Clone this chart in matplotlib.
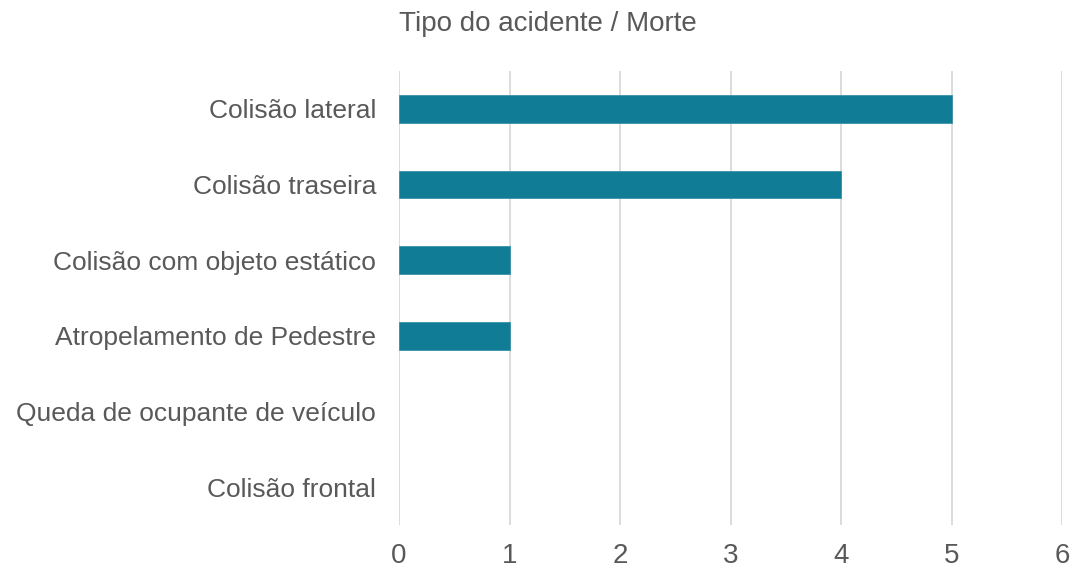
import matplotlib
matplotlib.use("Agg")
import matplotlib.pyplot as plt

categories = ["Colisão lateral", "Colisão traseira", "Colisão com objeto estático",
              "Atropelamento de Pedestre", "Queda de ocupante de veículo", "Colisão frontal"]
values = [5, 4, 1, 1, 0, 0]
xticks = [0, 1, 2, 3, 4, 5, 6]
title = "Tipo do acidente / Morte"

plt.rcParams['font.family'] = ['Liberation Sans', 'DejaVu Sans']
txt = "#595959"

fig = plt.figure(figsize=(10.73, 5.70), dpi=100)
ax = fig.add_axes([399/1073, 1 - 525/570, (1062 - 399)/1073, (525 - 71)/570])

y = list(range(len(categories)))
lws = [0.6 if v > 0 else 0 for v in values]
ax.barh(y, values, height=0.37, color="#107C96", edgecolor="#3A93A8", linewidth=lws, zorder=3)
ax.set_ylim(len(categories) - 0.5, -0.5)
ax.set_xlim(0, 6)
ax.set_xticks(xticks)
ax.set_xticklabels([str(v) for v in xticks], fontsize=20, color=txt)
ax.set_yticks(y)
ax.set_yticklabels(categories, fontsize=19, color=txt)
ax.tick_params(axis='both', length=0)
ax.tick_params(axis='x', pad=13)
ax.tick_params(axis='y', pad=16.5)
ax.grid(axis='x', color="#D9D9D9", linewidth=1.3, zorder=0)
for s in ax.spines.values():
    s.set_visible(False)

fig.text(548/1073, 1 - 24/570, title, ha='center', va='center', fontsize=20, color=txt)

fig.savefig("out.png", dpi=100)
